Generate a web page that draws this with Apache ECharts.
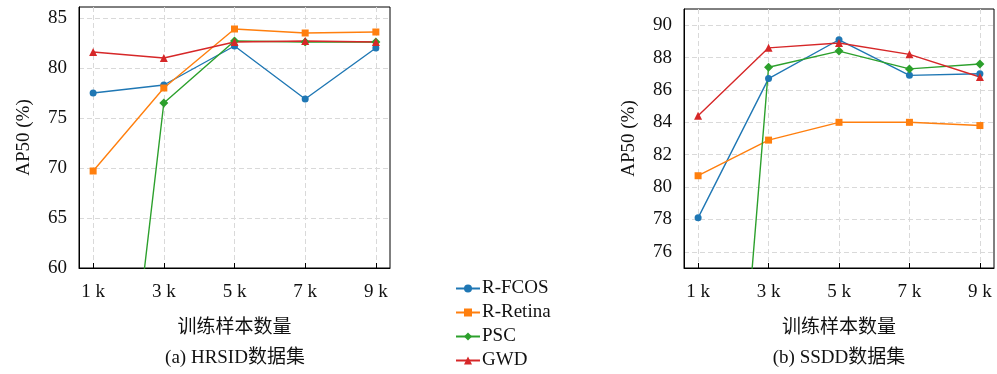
<!DOCTYPE html>
<html>
<head>
<meta charset="utf-8">
<script src="https://cdn.jsdelivr.net/npm/echarts@6/dist/echarts.min.js"></script>
<style>
  html, body { margin: 0; padding: 0; background: #fff; }
  #chart { width: 997px; height: 374px; }
</style>
</head>
<body>
<div id="chart"></div>
<script>
  // training sample counts (k)
  const sizes = [1, 3, 5, 7, 9];
  const sizeLabels = ['1 k', '3 k', '5 k', '7 k', '9 k'];

  // (a) HRSID
  const hrsidFcos = [77.5, 78.3, 82.2, 76.9, 82.0];
  const hrsidRetina = [69.7, 78.0, 83.9, 83.5, 83.6];
  const hrsidPsc = [16.0, 76.5, 82.7, 82.6, 82.6];
  const hrsidGwd = [81.6, 81.0, 82.6, 82.7, 82.6];

  // (b) SSDD
  const ssddFcos = [78.1, 86.7, 89.1, 86.9, 87.0];
  const ssddRetina = [80.7, 82.9, 84.0, 84.0, 83.8];
  const ssddPsc = [34.0, 87.4, 88.4, 87.3, 87.6];
  const ssddGwd = [84.4, 88.6, 88.9, 88.2, 86.8];

  const hrsidTicks = [60, 65, 70, 75, 80, 85];
  const ssddTicks = [76, 78, 80, 82, 84, 86, 88, 90];

  const FONT = '"Liberation Serif", "Noto Sans CJK SC", serif';
  const colors = ['#1f77b4', '#ff7f0e', '#2ca02c', '#d62728'];
  const names = ['R-FCOS', 'R-Retina', 'PSC', 'GWD'];
  const symbols = ['circle', 'rect', 'diamond', 'triangle'];
  const symbolSizes = [7, 7, 9, 8];

  const pair = (vals) => sizes.map((s, i) => [s, vals[i]]);

  const xAxisFor = (gridIndex) => ({
    type: 'value',
    gridIndex,
    min: 0.6,
    max: 9.4,
    name: '训练样本数量',
    nameLocation: 'middle',
    nameGap: 51,
    nameTextStyle: { fontFamily: FONT, fontSize: 19, color: '#111' },
    axisLine: { show: true, onZero: false, lineStyle: { color: '#000', width: 1 } },
    axisTick: {
      show: true,
      inside: true,
      length: 5,
      customValues: sizes,
      lineStyle: { color: '#000' },
    },
    axisLabel: {
      customValues: sizes,
      formatter: (v) => sizeLabels[sizes.indexOf(v)],
      fontFamily: FONT,
      fontSize: 19,
      color: '#111',
      margin: 15,
    },
    splitLine: {
      show: true,
      lineStyle: { color: '#d9d9d9', type: [5, 3], width: 1 },
    },
  });

  const yAxisFor = (gridIndex, min, max, ticks) => ({
    type: 'value',
    gridIndex,
    min,
    max,
    name: 'AP50 (%)',
    nameLocation: 'middle',
    nameGap: 45,
    nameRotate: 90,
    nameTextStyle: { fontFamily: FONT, fontSize: 19, color: '#111' },
    axisLine: { show: true, onZero: false, lineStyle: { color: '#000', width: 1 } },
    axisTick: { show: false, customValues: ticks },
    axisLabel: {
      customValues: ticks,
      fontFamily: FONT,
      fontSize: 19,
      color: '#111',
      margin: 12,
    },
    splitLine: {
      show: true,
      lineStyle: { color: '#d9d9d9', type: [5, 3], width: 1 },
    },
  });

  const makeSeries = (idx, vals, gridIndex) => ({
    name: names[idx],
    type: 'line',
    xAxisIndex: gridIndex,
    yAxisIndex: gridIndex,
    data: pair(vals),
    clip: true,
    symbol: symbols[idx],
    symbolSize: symbolSizes[idx],
    showAllSymbol: true,
    color: colors[idx],
    lineStyle: { width: 1.4, color: colors[idx] },
    itemStyle: { color: colors[idx] },
    animation: false,
  });

  const chart = echarts.init(document.getElementById('chart'), null, { renderer: 'canvas' });

  const option = {
    animation: false,
    backgroundColor: '#fff',
    grid: [
      { left: 79, top: 7, width: 311, height: 261, show: true, borderColor: '#000', borderWidth: 1, backgroundColor: 'transparent' },
      { left: 684, top: 9, width: 310, height: 259, show: true, borderColor: '#000', borderWidth: 1, backgroundColor: 'transparent' },
    ],
    xAxis: [xAxisFor(0), xAxisFor(1)],
    yAxis: [yAxisFor(0, 60, 86.1, hrsidTicks), yAxisFor(1, 75, 91, ssddTicks)],
    legend: {
      orient: 'vertical',
      left: 455,
      top: 279,
      height: 120,
      padding: 0,
      itemWidth: 24,
      itemHeight: 10,
      itemGap: 5,
      data: names,
      textStyle: { fontFamily: FONT, fontSize: 19, color: '#111', padding: [0, 0, 0, -3] },
    },
    graphic: [
      {
        type: 'text',
        x: 235,
        y: 358,
        style: { text: '(a) HRSID数据集', font: '19px ' + FONT, fill: '#111', textAlign: 'center', textVerticalAlign: 'middle' },
      },
      {
        type: 'text',
        x: 839,
        y: 358,
        style: { text: '(b) SSDD数据集', font: '19px ' + FONT, fill: '#111', textAlign: 'center', textVerticalAlign: 'middle' },
      },
    ],
    series: [
      makeSeries(0, hrsidFcos, 0),
      makeSeries(1, hrsidRetina, 0),
      makeSeries(2, hrsidPsc, 0),
      makeSeries(3, hrsidGwd, 0),
      makeSeries(0, ssddFcos, 1),
      makeSeries(1, ssddRetina, 1),
      makeSeries(2, ssddPsc, 1),
      makeSeries(3, ssddGwd, 1),
    ],
  };

  chart.setOption(option);
</script>
</body>
</html>
